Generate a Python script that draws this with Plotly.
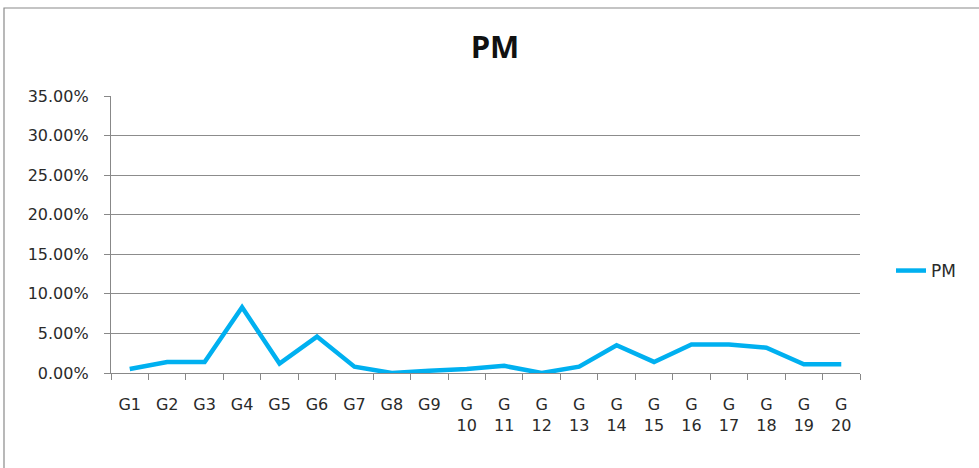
import plotly.graph_objects as go

categories = [f"G{i}" for i in range(1, 21)]
tick_labels = [c if len(c) == 2 else "G<br>" + c[1:] for c in categories]
pm_values = [0.005, 0.014, 0.014, 0.083, 0.012, 0.046, 0.008, 0.000, 0.003, 0.005,
             0.009, 0.000, 0.008, 0.035, 0.014, 0.036, 0.036, 0.032, 0.011, 0.011]
y_ticks = [0.0, 0.05, 0.10, 0.15, 0.20, 0.25, 0.30, 0.35]

W, H = 979, 468
L, R, T, B = 111, 119, 96, 95
pw, ph = W - L - R, H - T - B

def px(x):
    return (x - L) / pw

def py(y):
    return (H - B - y) / ph

label_font = dict(family="'DejaVu Sans', Verdana, sans-serif", size=16, color="#2a2a2a")

fig = go.Figure()
fig.add_trace(go.Scatter(
    x=categories, y=pm_values, mode="lines", name="PM",
    line=dict(color="#00B0F0", width=4.5),
))

fig.update_layout(
    width=W, height=H,
    margin=dict(l=L, r=R, t=T, b=B),
    paper_bgcolor="white", plot_bgcolor="white",
    font=label_font,
    title=dict(text="<b>PM</b>", x=495 / W, xanchor="center", y=1 - 47 / H, yanchor="middle",
               font=dict(family="'Open Sans', sans-serif", size=31, color="#111")),
    showlegend=True,
    legend=dict(x=px(891), xanchor="left", y=py(271), yanchor="middle",
                font=dict(family="'DejaVu Sans', Verdana, sans-serif", size=17, color="#2a2a2a"),
                bgcolor="rgba(0,0,0,0)"),
    xaxis=dict(
        range=[-0.5, 19.5],
        tickmode="array", tickvals=categories, ticktext=tick_labels,
        tickson="boundaries", ticks="outside", ticklen=6, tickcolor="#888",
        showline=True, linecolor="#888", linewidth=1.3,
        showgrid=False, ticklabelstandoff=17,
        tickfont=label_font,
    ),
    yaxis=dict(
        range=[0, 0.35], tickvals=y_ticks, tickformat=".2%",
        ticks="outside", ticklen=6, tickcolor="#888",
        showline=True, linecolor="#888", linewidth=1.3,
        showgrid=True, gridcolor="#8c8c8c", gridwidth=1.2,
        zeroline=False, ticklabelstandoff=12,
        tickfont=label_font,
    ),
    shapes=[dict(type="rect", xref="paper", yref="paper",
                 x0=px(4), x1=px(990), y0=py(480), y1=py(8),
                 line=dict(color="#8a8a8a", width=1.2), fillcolor="rgba(0,0,0,0)",
                 layer="below")],
)

fig.write_html("out.html")
